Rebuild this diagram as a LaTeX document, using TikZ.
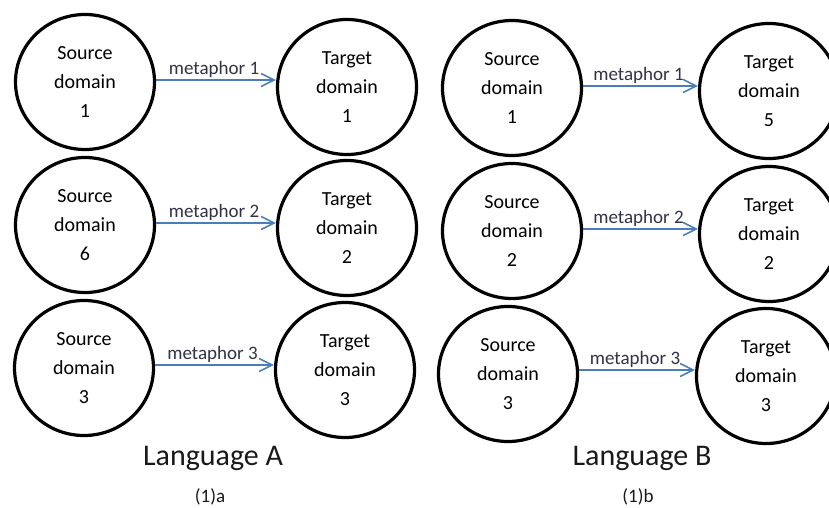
\documentclass[tikz,border=0pt]{standalone}
\usepackage{fontspec}
\setmainfont{Carlito}
\usetikzlibrary{shapes.geometric,arrows.meta}
\definecolor{arrblue}{RGB}{74,126,187}
\definecolor{labtxt}{RGB}{50,50,70}
\begin{document}
\begin{tikzpicture}[x=1pt,y=-1pt,
  dom/.style={draw=black,line width=3.2pt,ellipse,minimum width=139pt,minimum height=135pt,
    inner sep=0pt,align=center,font=\fontsize{20}{29}\selectfont},
  arr/.style={draw=arrblue,line width=1.6pt,-{Straight Barb[length=13pt,width=13pt,line width=1.6pt]}},
  lab/.style={font=\fontsize{19}{20}\selectfont,text=labtxt,inner sep=1pt},
  lang/.style={font=\fontsize{30}{32}\selectfont,text=black!90},
  sub/.style={font=\fontsize{19}{21}\selectfont,text=black!90}]
\useasboundingbox[fill=white] (0,0) rectangle (829,508);
% Language A
\node[dom] (sa1) at (85,82) {Source\\domain\\1};
\node[dom] (ta1) at (347,87) {Target\\domain\\1};
\node[dom] (sa2) at (85,225) {Source\\domain\\6};
\node[dom] (ta2) at (347,228) {Target\\domain\\2};
\node[dom] (sa3) at (84,368) {Source\\domain\\3};
\node[dom] (ta3) at (345,370) {Target\\domain\\3};
% Language B
\node[dom] (sb1) at (512,88) {Source\\domain\\1};
\node[dom] (tb1) at (769,91) {Target\\domain\\5};
\node[dom] (sb2) at (512,231) {Source\\domain\\2};
\node[dom] (tb2) at (769,234) {Target\\domain\\2};
\node[dom] (sb3) at (508,374) {Source\\domain\\3};
\node[dom] (tb3) at (766,376) {Target\\domain\\3};
% arrows
\draw[arr] ([yshift=2pt]sa1.east) -- ([yshift=2pt]sa1.east -| ta1.west) node[lab,midway,above=1pt,xshift=-2pt] {metaphor 1};
\draw[arr] ([yshift=2pt]sa2.east) -- ([yshift=2pt]sa2.east -| ta2.west) node[lab,midway,above=1pt,xshift=-2pt] {metaphor 2};
\draw[arr] ([yshift=3pt]sa3.east) -- ([yshift=3pt]sa3.east -| ta3.west) node[lab,midway,above=1pt,xshift=-2pt] {metaphor 3};
\draw[arr] ([yshift=2pt]sb1.east) -- ([yshift=2pt]sb1.east -| tb1.west) node[lab,midway,above=1pt,xshift=-2pt] {metaphor 1};
\draw[arr] ([yshift=2pt]sb2.east) -- ([yshift=2pt]sb2.east -| tb2.west) node[lab,midway,above=1pt,xshift=-2pt] {metaphor 2};
\draw[arr] ([yshift=4pt]sb3.east) -- ([yshift=4pt]sb3.east -| tb3.west) node[lab,midway,above=1pt,xshift=-2pt] {metaphor 3};
% captions
\node[lang] (la) at (213,458) {Language A};
\node[sub] (ca) at (210,497) {(1)a};
\node[lang] (lb) at (642,458) {Language B};
\node[sub] (cb) at (638,497) {(1)b};
\end{tikzpicture}
\end{document}
